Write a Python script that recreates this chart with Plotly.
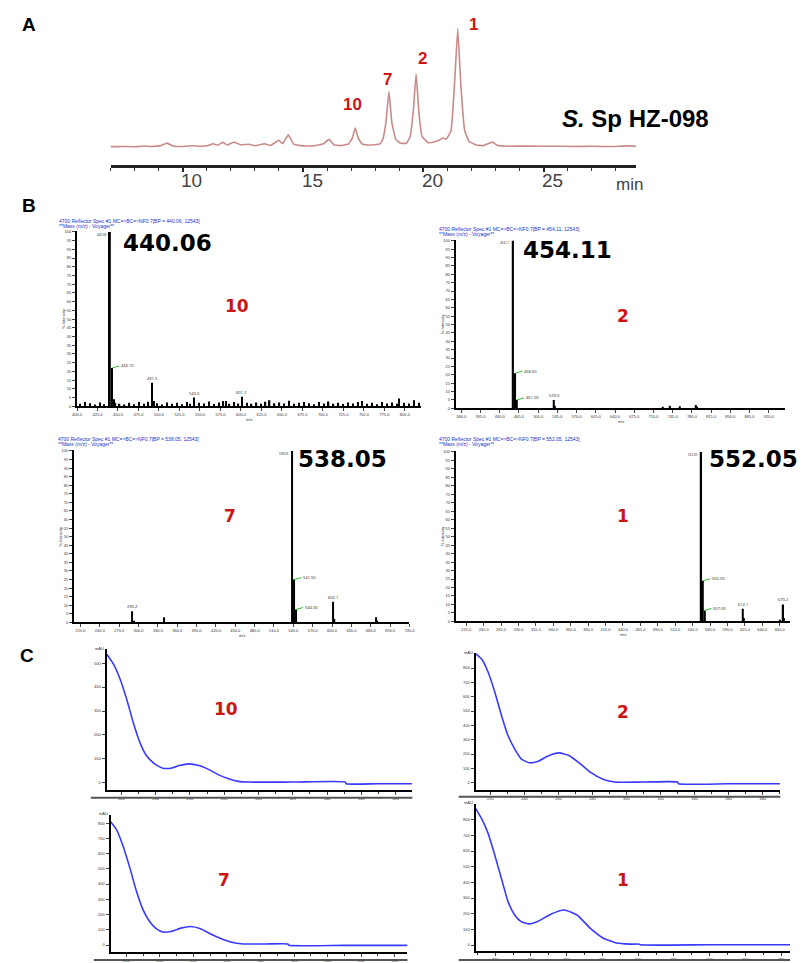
import plotly.graph_objects as go

# ================= DATA =================
# Panel A : HPLC chromatogram (retention time in min, relative signal)
chrom_time = [7.0, 7.5, 8.0, 8.4, 8.7, 9.1, 9.35, 9.6, 10.0, 10.4, 10.8, 11.05, 11.27, 11.45,
              11.66, 11.85, 12.13, 12.4, 12.76, 13.0, 13.4, 13.65, 14.0, 14.15, 14.39, 14.6,
              14.9, 15.3, 15.6, 15.85, 16.07, 16.3, 16.6, 16.9, 17.05, 17.17, 17.29, 17.45,
              17.7, 17.95, 18.2, 18.32, 18.45, 18.57, 18.69, 18.85, 19.05, 19.3, 19.45, 19.58,
              19.7, 19.82, 19.95, 20.2, 20.5, 20.7, 20.83, 20.95, 21.15, 21.3, 21.43, 21.56,
              21.72, 21.9, 22.2, 22.5, 22.87, 23.1, 23.6, 24.2, 24.8, 25.5, 26.2, 27.0, 27.8,
              28.5, 28.85]
chrom_signal = [0.6, 0.8, 0.5, 1.2, 0.8, 1.5, 3.6, 1.2, 0.8, 1.4, 1.0, 1.6, 3.0, 1.8,
                4.2, 2.0, 4.4, 2.2, 2.6, 1.4, 3.0, 1.6, 6.0, 3.0, 10.6, 3.0,
                1.5, 1.2, 1.8, 3.0, 6.7, 2.0, 1.6, 3.0, 8.0, 16.5, 8.0, 3.0,
                2.0, 2.2, 3.0, 7.0, 22.0, 47.0, 21.0, 7.0, 3.5, 3.5, 9.0, 30.0,
                62.0, 28.0, 9.0, 4.0, 5.0, 6.5, 7.9, 7.0, 14.0, 55.0, 100.0, 52.0,
                14.0, 5.0, 2.0, 1.5, 4.4, 1.5, 1.0, 1.2, 0.9, 1.0, 0.8, 0.9, 0.7,
                1.3, 0.9]
chrom_ticks = [10, 15, 20, 25]
chrom_peak_labels = ["10", "7", "2", "1"]
strain_label = "<b><i>S.</i> Sp HZ-098</b>"

# Panel B : mass spectra (m/z, relative intensity %)
ms10_mz = [440.06, 443.1, 445.0, 491.5, 493.5, 543.0, 581.7, 601.2,
           404, 410, 416, 422, 428, 433, 447, 452, 458, 464, 470, 476, 482, 487, 498, 504,
           510, 516, 522, 528, 534, 538, 549, 555, 561, 567, 573, 578, 586, 592, 597, 607,
           613, 619, 625, 630, 635, 641, 647, 653, 659, 665, 671, 677, 683, 689, 695, 701,
           707, 713, 719, 725, 731, 737, 743, 748, 754, 760, 766, 772, 778, 784, 790, 793,
           799, 805, 811, 817]
ms10_int = [100, 22, 4, 13.5, 3, 5, 3, 5.5,
            1.5, 2.5, 1.8, 1.0, 2.2, 1.2, 2.0, 1.5, 1.0, 2.0, 1.2, 2.4, 1.5, 2.6, 1.8, 1.0,
            2.2, 1.4, 2.0, 1.2, 2.5, 1.5, 2.0, 1.6, 2.8, 1.3, 2.2, 3.0, 1.5, 2.4, 1.6, 2.0,
            1.5, 2.2, 1.4, 2.6, 3.5, 1.8, 2.2, 1.6, 3.2, 1.4, 2.0, 2.5, 1.8, 1.2, 2.4, 1.6,
            2.8, 1.5, 2.0, 1.3, 2.2, 1.6, 2.5, 3.0, 1.5, 2.0, 1.2, 2.4, 1.6, 2.2, 1.5, 4.5,
            2.0, 1.6, 3.5, 2.0]
ms2_mz = [454.11, 458.6, 461.0, 529.0, 531.0, 727.0, 740.0, 758.0, 786.5, 790.0]
ms2_int = [100, 21, 5, 5, 1.5, 1.0, 1.5, 1.2, 2.0, 1.0]
ms7_mz = [290.2, 293.0, 339.0, 538.05, 541.5, 544.0, 602.1, 604.0, 668.0, 670.0]
ms7_int = [6.5, 1.0, 3.0, 100, 25, 7.5, 12, 2, 3, 1]
ms1_mz = [552.05, 555.0, 557.0, 612.1, 614.0, 666.0, 670.2, 671.5]
ms1_int = [100, 24, 6.5, 7.5, 2, 1, 10, 2]

ms_big_labels = ["440.06", "454.11", "538.05", "552.05"]
ms_ids = ["10", "2", "7", "1"]

# Panel C : UV spectra (wavelength nm, absorbance mAU)
uv10_nm = [211.5, 215.4, 219.3, 223.1, 226.9, 230.8, 234.6, 239.4, 244.2, 248.9, 253.8,
           259.5, 265.3, 271.1, 276.8, 282.6, 288.3, 294.1, 320.0, 350.6, 351.2, 370.0, 389.8]
uv10_abs = [537, 496, 433, 350, 253, 169, 114, 79, 61, 61, 72,
            79, 72, 55, 33, 17, 6, 3, 3, 3, -4, -4, -4]
uv2_nm = [211.1, 215.0, 218.8, 222.7, 226.6, 230.4, 234.3, 238.1, 243.0, 247.8, 253.6,
          260.4, 266.2, 272.9, 278.7, 286.5, 293.2, 310.0, 330.0, 330.6, 360.0, 390.3]
uv2_abs = [903, 861, 769, 630, 468, 329, 236, 167, 139, 148, 185,
           208, 190, 132, 74, 23, 5, 5, 5, -7, -7, -7]
uv7_nm = [210.4, 214.3, 218.2, 222.2, 226.1, 230.0, 233.9, 237.8, 241.8, 246.6, 252.5,
          258.4, 264.3, 271.2, 278.1, 284.9, 289.8, 303.0, 316.3, 316.9, 350.0, 387.8]
uv7_abs = [812, 754, 645, 503, 351, 231, 155, 107, 85, 89, 111,
           122, 107, 67, 35, 13, 7, 7, 7, -2, -2, -2]
uv1_nm = [209.1, 212.4, 216.1, 219.8, 223.5, 227.2, 230.9, 234.5, 239.1, 243.7, 251.1,
          258.5, 265.8, 273.1, 280.5, 287.9, 295.2, 300.7, 301.1, 340.0, 385.0]
uv1_abs = [870, 806, 711, 573, 425, 277, 192, 150, 135, 150, 197,
           224, 192, 108, 44, 13, 6, 6, 2, 2, 2]
uv_ticks = [220, 240, 260, 280, 300, 320, 340, 360, 380]

# ================= LAYOUT HELPERS =================
W, H = 808, 963
def fx(p): return p / W
def fy(p): return 1 - p / H

RED = "#cc1414"
ARIAL = "Liberation Sans, Arial, sans-serif"
DEJA = "DejaVu Sans, Verdana, sans-serif"

fig = go.Figure()
layout = dict(width=W, height=H, margin=dict(l=0, r=0, t=0, b=0),
              paper_bgcolor="white", plot_bgcolor="rgba(0,0,0,0)", showlegend=False)
annotations = []
shapes = []

def ann(text, px, py, size, color="black", family=ARIAL, xanchor="center", angle=0):
    annotations.append(dict(text=text, x=fx(px), y=fy(py), xref="paper", yref="paper",
                            showarrow=False, xanchor=xanchor, yanchor="middle",
                            textangle=angle, font=dict(size=size, color=color, family=family)))

# ---------- Panel A ----------
fig.add_trace(go.Scatter(x=chrom_time, y=chrom_signal, mode="lines",
                         line=dict(color="#c98a8a", width=1.6, shape="spline", smoothing=0.3),
                         xaxis="x", yaxis="y", hoverinfo="skip"))
layout["xaxis"] = dict(domain=[fx(107), fx(640)], range=[7.0, 28.85], anchor="y",
                       showline=True, linewidth=3, linecolor="#222", showgrid=False, zeroline=False,
                       ticks="outside", ticklen=4, tickwidth=1.5, tickcolor="#222",
                       tickvals=chrom_ticks, showticklabels=False,
                       minor=dict(dtick=1, ticks="outside", ticklen=3, tickcolor="#333", tickwidth=1))
layout["yaxis"] = dict(domain=[fy(164), fy(20)], range=[-15.1, 105.6], anchor="x", visible=False)
# tick labels of the time axis (text placed on the axis scale, slightly right of the tick)
for t in chrom_ticks:
    annotations.append(dict(text=str(t), x=t, y=fy(179), xref="x", yref="paper", showarrow=False,
                            xanchor="center", yanchor="middle", xshift=9,
                            font=dict(size=19, color="#444", family=ARIAL)))

peak_lbl_pos = [(352, 103), (388, 78), (423, 57), (475, 23)]
for lbl, (px, py) in zip(chrom_peak_labels, peak_lbl_pos):
    ann("<b>%s</b>" % lbl, px, py, 17, RED)
ann(strain_label, 639, 117, 24)
ann("min", 633, 183, 17, "#444")
ann("<b>A</b>", 24, 23, 19)
ann("<b>B</b>", 24, 204, 19)
ann("<b>C</b>", 22, 656, 19)

# ---------- Panel B : mass spectra ----------
ms_panels = [
    dict(mz=ms10_mz, it=ms10_int, xr=[400, 820], dx=(73, 422), dy=(230, 406), dt=25, t0=425,
         big=(165, 242), idp=(235, 305), hdr=(53, 220)),
    dict(mz=ms2_mz, it=ms2_int, xr=[350, 950], dx=(457, 791), dy=(239, 408), dt=35, t0=360,
         big=(570, 249), idp=(627, 315), hdr=(438, 228)),
    dict(mz=ms7_mz, it=ms7_int, xr=[200, 720], dx=(70, 410), dy=(450, 623), dt=30, t0=210,
         big=(342, 459), idp=(228, 516), hdr=(52, 439)),
    dict(mz=ms1_mz, it=ms1_int, xr=[200, 680], dx=(457, 796), dy=(451, 622), dt=25, t0=215,
         big=(759, 459), idp=(627, 516), hdr=(438, 439)),
]
BAR_PX = 1.3
for i, p in enumerate(ms_panels):
    k = i + 2
    xa, ya = "x%d" % k, "y%d" % k
    span_px = p["dx"][1] - p["dx"][0]
    unit = (p["xr"][1] - p["xr"][0]) / span_px
    widths = [unit * (2.0 if v >= 99 else BAR_PX) for v in p["it"]]
    fig.add_trace(go.Bar(x=p["mz"], y=p["it"], width=widths, marker_color="black",
                         marker_line_width=0, xaxis=xa, yaxis=ya, hoverinfo="skip"))
    layout["xaxis%d" % k] = dict(domain=[fx(p["dx"][0]), fx(p["dx"][1])], range=p["xr"], anchor=ya,
                                 showline=True, linewidth=2, linecolor="black", showgrid=False,
                                 zeroline=False, ticks="outside", ticklen=3, tickwidth=1,
                                 tick0=p["t0"], dtick=p["dt"], tickformat=".1f",
                                 tickfont=dict(size=4, color="#333", family=ARIAL))
    layout["yaxis%d" % k] = dict(domain=[fy(p["dy"][1]), fy(p["dy"][0])], range=[0, 100.5], anchor=xa,
                                 showline=True, linewidth=2, linecolor="black", showgrid=False,
                                 zeroline=False, ticks="outside", ticklen=3, tickwidth=1,
                                 dtick=5, tickfont=dict(size=4, color="#333", family=ARIAL))
    main_mz = p["mz"][p["it"].index(max(p["it"]))]
    for m, v in zip(p["mz"], p["it"]):
        if v >= 99:
            annotations.append(dict(text="%.2f" % m, x=m, y=98.5, xref=xa, yref=ya, showarrow=False,
                                    xanchor="right", yanchor="middle", xshift=-1,
                                    font=dict(size=3, color="#222")))
        elif v >= 4.9 and abs(m - main_mz) < 10:
            annotations.append(dict(text="%.2f" % m, x=m, y=v, xref=xa, yref=ya, showarrow=True,
                                    arrowhead=0, arrowcolor="#33bb33", arrowwidth=1, ax=7, ay=-2,
                                    xanchor="left", font=dict(size=4, color="#222")))
        elif v >= 4.9:
            annotations.append(dict(text="%.1f" % m, x=m, y=v, xref=xa, yref=ya, showarrow=False,
                                    yanchor="bottom", font=dict(size=4, color="#222")))
    ann("<b>%s</b>" % ms_big_labels[i], p["big"][0], p["big"][1], 23, "black", DEJA)
    ann("<b>%s</b>" % ms_ids[i], p["idp"][0], p["idp"][1], 17, RED, DEJA)
    hx, hy = p["hdr"]
    ann("4700 Reflector Spec #1 MC=>BC=>NF0.7[BP = %s, 12543]" % ms_big_labels[i],
        hx, hy, 5, "#2233cc", ARIAL, "left")
    ann("**Mass (m/z) - Voyager**", hx, hy + 5, 5, "#2233cc", ARIAL, "left")
    ann("% Intensity", p["dx"][0] - 14, (p["dy"][0] + p["dy"][1]) / 2, 4, "#333", ARIAL, "center", -90)
    ann("m/z", (p["dx"][0] + p["dx"][1]) / 2, p["dy"][1] + 13, 4, "#333")

# ---------- Panel C : UV spectra ----------
uv_panels = [
    dict(nm=uv10_nm, ab=uv10_abs, xr=[211.4, 389.8], yr=[-29, 558], dx=(103, 413), dy=(650, 791),
         yt=list(range(0, 501, 100)), idp=(224, 710), frame=(87, 413, 799)),
    dict(nm=uv2_nm, ab=uv2_abs, xr=[211.3, 390.4], yr=[-48.6, 903], dx=(477, 786), dy=(654, 791),
         yt=list(range(0, 801, 100)), idp=(627, 713), frame=(460, 786, 798)),
    dict(nm=uv7_nm, ab=uv7_abs, xr=[210.6, 387.6], yr=[-46, 856], dx=(107, 408), dy=(816, 954),
         yt=list(range(0, 801, 100)), idp=(222, 882), frame=(90, 408, 962)),
    dict(nm=uv1_nm, ab=uv1_abs, xr=[209.0, 385.0], yr=[-38, 902], dx=(477, 796), dy=(805, 953),
         yt=list(range(0, 801, 100)), idp=(627, 882), frame=(460, 796, 962)),
]
uv_ids = ["10", "2", "7", "1"]
for i, p in enumerate(uv_panels):
    k = i + 6
    xa, ya = "x%d" % k, "y%d" % k
    fig.add_trace(go.Scatter(x=p["nm"], y=p["ab"], mode="lines",
                             line=dict(color="#3a3aff", width=1.6, shape="spline", smoothing=0.5),
                             xaxis=xa, yaxis=ya, hoverinfo="skip"))
    layout["xaxis%d" % k] = dict(domain=[fx(p["dx"][0]), fx(p["dx"][1])], range=p["xr"], anchor=ya,
                                 showline=True, linewidth=2, linecolor="black", showgrid=False,
                                 zeroline=False, ticks="outside", ticklen=3, tickwidth=1,
                                 tickvals=uv_ticks, ticktext=[str(t) for t in uv_ticks],
                                 tickfont=dict(size=4, color="#333", family=ARIAL),
                                 minor=dict(dtick=10, ticks="outside", ticklen=2, tickcolor="#333"))
    layout["yaxis%d" % k] = dict(domain=[fy(p["dy"][1]), fy(p["dy"][0])], range=p["yr"], anchor=xa,
                                 showline=True, linewidth=2, linecolor="black", showgrid=False,
                                 zeroline=False, ticks="outside", ticklen=3, tickwidth=1,
                                 tickvals=p["yt"], ticktext=[str(t) for t in p["yt"]],
                                 tickfont=dict(size=4, color="#333", family=ARIAL))
    ann("mAU", p["dx"][0] - 7, p["dy"][0] - 1, 4, "#333")
    ann("<b>%s</b>" % uv_ids[i], p["idp"][0], p["idp"][1], 17, RED, DEJA)
    x0, x1, yy = p["frame"]
    shapes.append(dict(type="line", xref="paper", yref="paper", x0=fx(x0), x1=fx(x1),
                       y0=fy(yy), y1=fy(yy), line=dict(color="#555", width=2)))

layout["annotations"] = annotations
layout["shapes"] = shapes
fig.update_layout(**layout)
fig.write_html("out.html")
